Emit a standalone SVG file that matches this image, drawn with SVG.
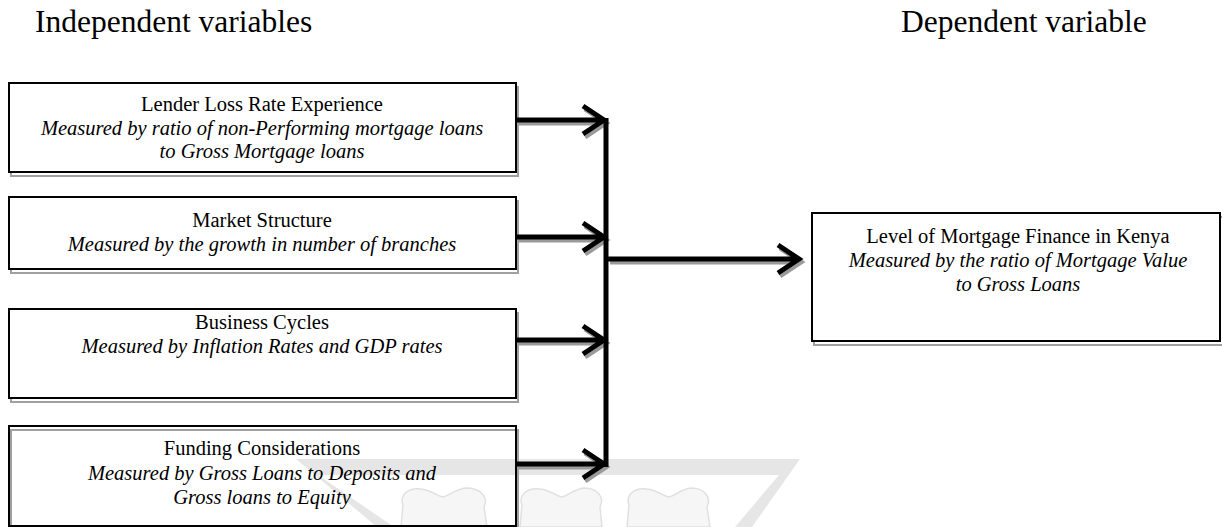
<svg xmlns="http://www.w3.org/2000/svg" width="1222" height="527" viewBox="0 0 1222 527">
<defs>
<style>
.hdr{font-family:"Liberation Serif","Times New Roman",serif;font-size:31.5px;fill:#000}
.t{font-family:"Liberation Serif","Times New Roman",serif;font-size:20.5px;fill:#000;text-anchor:middle}
.i{font-style:italic}
.box{fill:none;stroke:#000;stroke-width:2}
.sh{fill:none;stroke:#a0a0a0;stroke-width:2}
.ln{fill:none;stroke:#000;stroke-width:5;stroke-linejoin:miter}
.lns{fill:none;stroke:#9a9a9a;stroke-width:5;stroke-linejoin:miter}
.bus{fill:none;stroke:#000;stroke-width:5}
.wm{fill:#e6e6e6;stroke:none}
.heart{fill:#f6f6f6;stroke:#e0e0e0;stroke-width:1.5}
</style>
</defs>
<rect width="1222" height="527" fill="#fff"/>
<g id="watermark">
<polygon class="wm" points="296,459 800,459 752,527 735,527 779,475 318,475 394,527 377,527"/>
<path class="heart" d="M401,527 L403,505 C399,495 409,487 421,489 C431,490 437,496 443,497 C449,496 455,489 466,488 C480,488 489,497 484,507 L487,527 Z"/>
<path class="heart" d="M520,527 L522,505 C518,495 528,487 540,489 C550,490 556,496 562,497 C568,496 574,489 584,488 C597,488 605,497 600,507 L602,527 Z"/>
<path class="heart" d="M627,527 L629,505 C625,495 635,487 647,489 C657,490 663,496 669,497 C675,496 681,489 691,488 C704,488 712,497 707,507 L710,527 Z"/>
</g>
<g id="headers">
<text class="hdr" x="35" y="32">Independent variables</text>
<text class="hdr" x="901" y="32">Dependent variable</text>
</g>
<g id="lender">
<rect class="sh" x="11" y="87" width="507" height="89"/>
<rect class="box" x="9" y="83" width="507" height="89" style="fill:#fff"/>
<text class="t" x="262" y="111">Lender Loss Rate Experience</text>
<text class="t i" x="262" y="135">Measured by ratio of non-Performing mortgage loans</text>
<text class="t i" x="262" y="158">to Gross Mortgage loans</text>
</g>
<g id="market">
<rect class="sh" x="11" y="201" width="507" height="72"/>
<rect class="box" x="9" y="197" width="507" height="72" style="fill:#fff"/>
<text class="t" x="262" y="227">Market Structure</text>
<text class="t i" x="262" y="251">Measured by the growth in number of branches</text>
</g>
<g id="business">
<rect class="sh" x="11" y="313" width="507" height="89"/>
<rect class="box" x="9" y="309" width="507" height="89" style="fill:#fff"/>
<text class="t" x="262" y="329">Business Cycles</text>
<text class="t i" x="262" y="353">Measured by Inflation Rates and GDP rates</text>
</g>
<g id="funding">
<path class="sh" d="M11,530 L11,430 L518,430 L518,530"/>
<path class="box" d="M9,526 L9,426 L516,426 L516,526 Z"/>
<text class="t" x="262" y="455">Funding Considerations</text>
<text class="t i" x="262" y="480">Measured by Gross Loans to Deposits and</text>
<text class="t i" x="262" y="504">Gross loans to Equity</text>
</g>
<g id="mortgage">
<rect class="sh" x="814" y="217" width="410" height="128"/>
<rect class="box" x="812" y="213" width="408" height="128" style="fill:#fff"/>
<text class="t" x="1018" y="243">Level of Mortgage Finance in Kenya</text>
<text class="t i" x="1018" y="267">Measured by the ratio of Mortgage Value</text>
<text class="t i" x="1018" y="291">to Gross Loans</text>
</g>
<g id="connectors">
<g transform="translate(2,3)">
<path class="lns" d="M516,120 H603 M583,106 L604,120 L583,134"/>
<path class="lns" d="M516,237 H603 M583,223 L604,237 L583,251"/>
<path class="lns" d="M516,340 H603 M583,326 L604,340 L583,354"/>
<path class="lns" d="M516,464 H603 M583,450 L604,464 L583,478"/>
<path class="lns" d="M608,259 H798 M778,245 L799,259 L778,273"/>
</g>
<path class="bus" d="M606,118 V467"/>
<path class="ln" d="M516,120 H603 M583,106 L604,120 L583,134"/>
<path class="ln" d="M516,237 H603 M583,223 L604,237 L583,251"/>
<path class="ln" d="M516,340 H603 M583,326 L604,340 L583,354"/>
<path class="ln" d="M516,464 H603 M583,450 L604,464 L583,478"/>
<path class="ln" d="M608,259 H798 M778,245 L799,259 L778,273"/>
</g>
</svg>
